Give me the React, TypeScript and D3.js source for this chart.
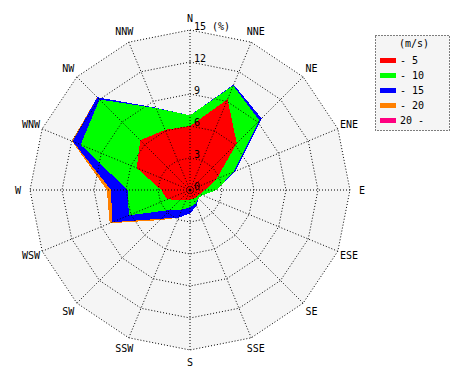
import React from "react";
import * as d3 from "d3";

const directions = ["N", "NNE", "NE", "ENE", "E", "ESE", "SE", "SSE", "S", "SSW", "SW", "WSW", "W", "WNW", "NW", "NNW"];
const speedClasses = ["- 5", "- 10", "- 15", "- 20", "20 -"];
const classColors = ["#ff0000", "#00ff00", "#0000ff", "#ff8000", "#ff0080"];
// frequency (%) per direction for each speed class
const speed0to5 = [6.0, 9.2, 6.2, 2.7, 1.4, 1.0, 0.9, 0.9, 0.9, 1.0, 1.3, 2.3, 2.7, 5.4, 6.6, 6.1];
const speed5to10 = [1.0, 1.4, 3.0, 1.7, 1.1, 0.3, 0.2, 0.5, 0.7, 1.0, 1.35, 3.9, 3.15, 5.7, 5.4, 2.2];
const speed10to15 = [0, 0.1, 0.3, 0.2, 0, 0, 0, 0.2, 0.6, 0.8, 1.15, 1.7, 1.55, 0.8, 0.3, 0.05];
const speed15to20 = [0, 0, 0, 0, 0, 0, 0, 0, 0, 0, 0.2, 0.25, 0.4, 0.1, 0, 0];
const speed20up = [0, 0, 0, 0, 0, 0, 0, 0, 0, 0, 0, 0, 0, 0, 0, 0];
const ringTicks = [3, 6, 9, 12, 15];

const series = [speed0to5, speed5to10, speed10to15, speed15to20, speed20up];

export default function App() {
  const W = 470, H = 380;
  const cx = 190, cy = 190, R = 160;
  const r = d3.scaleLinear().domain([0, 15]).range([0, R]);
  const n = directions.length;
  const ang = (i: number) => (i * 2 * Math.PI) / n;
  const font = "'DejaVu Sans Mono', monospace";

  // cumulative stacks
  const cum: number[][] = [];
  series.forEach((s, k) => {
    cum.push(s.map((v, i) => v + (k > 0 ? cum[k - 1][i] : 0)));
  });

  const radial = d3
    .lineRadial<number>()
    .angle((_, i) => ang(i))
    .radius((d) => r(d))
    .curve(d3.curveLinearClosed);

  const ringPath = (v: number) => radial(directions.map(() => v)) as string;
  const pt = (i: number, rad: number) => [cx + rad * Math.sin(ang(i)), cy - rad * Math.cos(ang(i))];

  return (
    <svg width={W} height={H} style={{ position: "absolute", left: 0, top: 0, background: "#fff" }}>
      <g transform={`translate(${cx},${cy})`}>
        <path d={ringPath(15)} fill="#f5f5f5" />
        {cum
          .map((c, k) => ({ c, k }))
          .reverse()
          .map(({ c, k }) => (
            <path key={k} d={radial(c) as string} fill={classColors[k]} shapeRendering="crispEdges" />
          ))}
        {ringTicks.map((t) => (
          <path key={t} d={ringPath(t)} fill="none" stroke="#000" strokeWidth={1} strokeDasharray="1 2" />
        ))}
        {directions.map((d, i) => {
          const [x, y] = [R * Math.sin(ang(i)), -R * Math.cos(ang(i))];
          return <line key={d} x1={0} y1={0} x2={x} y2={y} stroke="#000" strokeWidth={1} strokeDasharray="1 2" />;
        })}
        <circle r={1.5} fill="#000" />
      </g>
      {directions.map((d, i) => {
        const [x, y] = pt(i, 172);
        return (
          <text key={d} x={x} y={y} dy="0.35em" textAnchor="middle" fontFamily={font} fontSize={10} fill="#000">
            {d}
          </text>
        );
      })}
      {[0, ...ringTicks].map((t) => (
        <text key={t} x={cx + 4} y={cy - r(t)} fontFamily={font} fontSize={10} fill="#000">
          {t === 15 ? "15 (%)" : String(t)}
        </text>
      ))}
      <g>
        <rect x={375.5} y={35.5} width={74} height={95} fill="#f5f5f5" stroke="#000" strokeDasharray="1 2" />
        <text x={414} y={43} dy="0.35em" textAnchor="middle" fontFamily={font} fontSize={10} fill="#000">
          (m/s)
        </text>
        {speedClasses.map((s, k) => (
          <g key={s}>
            <rect x={380} y={58 + k * 15} width={16} height={5} fill={classColors[k]} />
            <text x={400} y={60.5 + k * 15} dy="0.35em" fontFamily={font} fontSize={10} fill="#000">
              {s}
            </text>
          </g>
        ))}
      </g>
    </svg>
  );
}
